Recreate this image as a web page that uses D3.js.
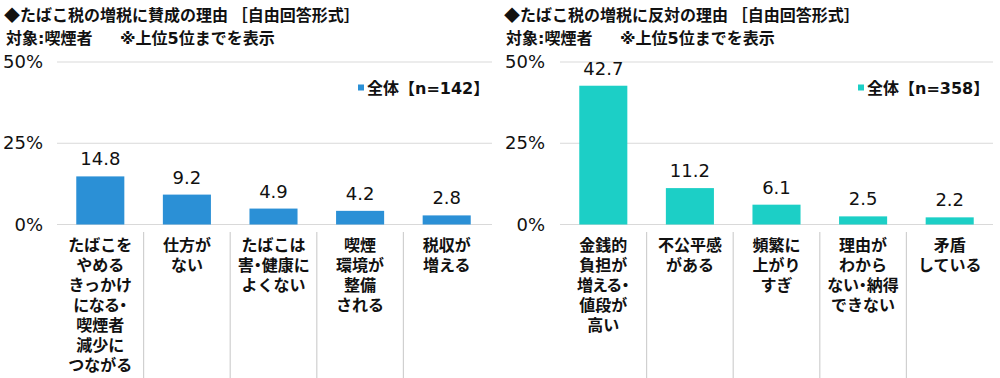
<!DOCTYPE html>
<html><head><meta charset="utf-8">
<script src="https://cdn.jsdelivr.net/npm/d3@7"></script>
<style>
html,body{margin:0;padding:0;background:#fff;}
svg{display:block;font-family:"DejaVu Sans","Noto Sans CJK JP",sans-serif;}
.cjk{font-family:"Noto Sans CJK JP","DejaVu Sans",sans-serif;}
.dot{font-feature-settings:"palt";}
</style></head>
<body>
<svg id="chart" width="1000" height="378"></svg>
<script>
const titleFor = "◆たばこ税の増税に賛成の理由 ［自由回答形式］";
const titleAgainst = "◆たばこ税の増税に反対の理由 ［自由回答形式］";
const subtitleA = "対象:喫煙者";
const subtitleB = "※上位5位までを表示";
const categoriesFor = [
  ["たばこを","やめる","きっかけ","になる・","喫煙者","減少に","つながる"],
  ["仕方が","ない"],
  ["たばこは","害・健康に","よくない"],
  ["喫煙","環境が","整備","される"],
  ["税収が","増える"]
];
const valuesFor = [14.8, 9.2, 4.9, 4.2, 2.8];
const categoriesAgainst = [
  ["金銭的","負担が","増える・","値段が","高い"],
  ["不公平感","がある"],
  ["頻繁に","上がり","すぎ"],
  ["理由が","わから","ない・納得","できない"],
  ["矛盾","している"]
];
const valuesAgainst = [42.7, 11.2, 6.1, 2.5, 2.2];
const legendFor = "全体【n=142】";
const legendAgainst = "全体【n=358】";
const yTicks = [0, 25, 50];
const tickLabels = ["0%", "25%", "50%"];

const svg = d3.select("#chart");

function panel(ox, title, cats, vals, legend, color, tickRight, gridStart, gridEnd, bandStart, bandEnd) {
  const g = svg.append("g").attr("transform", `translate(${ox},0)`);
  g.append("text").attr("class", "cjk").attr("x", 4).attr("y", 21).attr("font-size", 16).attr("font-weight", "bold")
    .attr("fill", "#111").text(title);
  g.append("text").attr("x", 6).attr("y", 44).attr("font-size", 16).attr("font-weight", "bold")
    .attr("fill", "#111").text(subtitleA);
  g.append("text").attr("x", 120).attr("y", 44).attr("font-size", 16).attr("font-weight", "bold")
    .attr("fill", "#111").text(subtitleB);

  const y = d3.scaleLinear().domain([0, 50]).range([224.5, 62]);
  const keys = cats.map((c, i) => i);
  const x = d3.scaleBand().domain(keys).range([bandStart, bandEnd]).paddingInner(0.445).paddingOuter(0.2225);

  g.selectAll(".grid").data(yTicks).enter().append("line")
    .attr("x1", gridStart).attr("x2", gridEnd)
    .attr("y1", d => y(d)).attr("y2", d => y(d))
    .attr("stroke", "#d9d9d9").attr("stroke-width", 1.2);
  g.selectAll(".tick").data(yTicks).enter().append("text")
    .attr("x", tickRight).attr("y", d => y(d) + 1).attr("text-anchor", "end")
    .attr("dominant-baseline", "middle").attr("font-size", 18).attr("fill", "#111")
    .text((d, i) => tickLabels[i]);

  const step = x.step();
  g.selectAll(".div").data(keys.slice(1)).enter().append("line")
    .attr("x1", d => bandStart + d * step).attr("x2", d => bandStart + d * step)
    .attr("y1", 232).attr("y2", 378).attr("stroke", "#d0d0d0").attr("stroke-width", 1.2);

  g.selectAll(".bar").data(vals).enter().append("rect")
    .attr("x", (d, i) => x(i)).attr("width", x.bandwidth())
    .attr("y", d => y(d)).attr("height", d => y(0) - y(d)).attr("fill", color);
  g.selectAll(".val").data(vals).enter().append("text")
    .attr("x", (d, i) => x(i) + x.bandwidth() / 2).attr("y", d => y(d) - 11)
    .attr("text-anchor", "middle").attr("font-size", 18).attr("fill", "#111")
    .text(d => d.toFixed(1));

  cats.forEach((lines, i) => {
    const cx = x(i) + x.bandwidth() / 2;
    const t = g.append("text").attr("class", "cjk").attr("x", cx).attr("y", 251)
      .attr("text-anchor", "middle").attr("font-size", 16).attr("font-weight", "bold").attr("fill", "#111");
    lines.forEach((ln, j) => {
      t.append("tspan").attr("x", cx).attr("y", 251 + j * 20)
        .attr("class", ln.includes("・") ? "dot" : null).text(ln);
    });
  });

  g.append("rect").attr("x", 358).attr("y", 84.5).attr("width", 6).attr("height", 6).attr("fill", color);
  g.append("text").attr("x", 367).attr("y", 94).attr("font-size", 16).attr("font-weight", "bold")
    .attr("fill", "#111").text(legend);
}

panel(0, titleFor, categoriesFor, valuesFor, legendFor, "#2b90d6", 43, 57, 492, 57, 490);
panel(500, titleAgainst, categoriesAgainst, valuesAgainst, legendAgainst, "#1ccfc6", 45, 60, 493, 60, 493);
</script>
</body></html>
